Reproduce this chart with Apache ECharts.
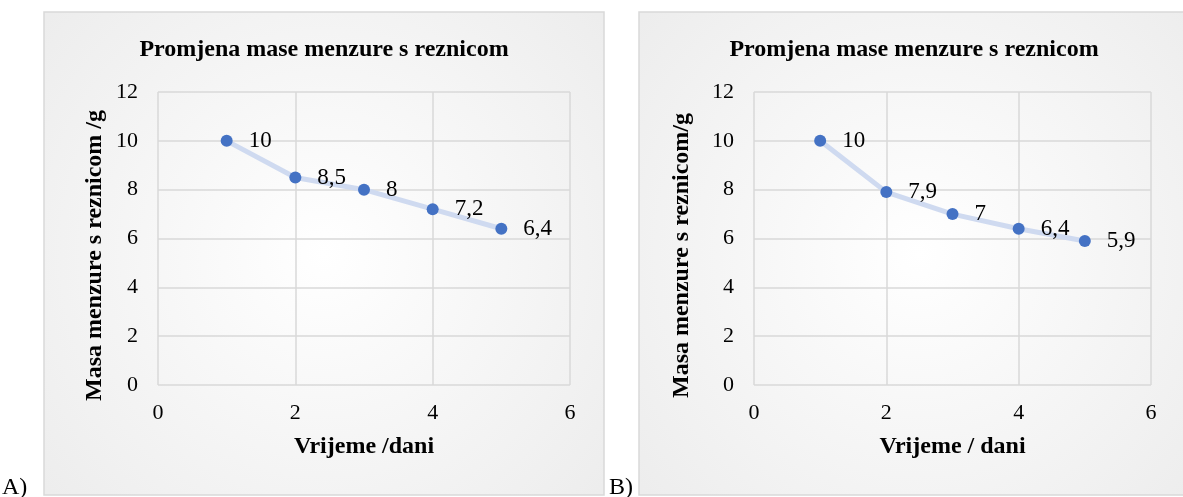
<!DOCTYPE html>
<html>
<head>
<meta charset="utf-8">
<script src="https://cdn.jsdelivr.net/npm/echarts@6/dist/echarts.min.js"></script>
<style>
  html, body { margin: 0; padding: 0; background: #fff; }
  #chart { width: 1183px; height: 497px; }
</style>
</head>
<body>
<div id="chart"></div>
<script>
const days = [1, 2, 3, 4, 5];
const massA = [10, 8.5, 8, 7.2, 6.4];
const massB = [10, 7.9, 7, 6.4, 5.9];
const xTicks = [0, 2, 4, 6];
const yTicks = [0, 2, 4, 6, 8, 10, 12];

const chartTitle = 'Promjena mase menzure s reznicom';
const yNameA = 'Masa menzure s reznicom /g';
const yNameB = 'Masa menzure s reznicom/g';
const xNameA = 'Vrijeme /dani';
const xNameB = 'Vrijeme / dani';

const font = '"Liberation Serif", "Times New Roman", serif';
const gridColor = '#d9d9d9';

const panelFill = {
  type: 'radial', x: 0.5, y: 0.5, r: 0.75,
  colorStops: [{ offset: 0, color: '#ffffff' }, { offset: 1, color: '#ededed' }]
};

function xAxis(gridIndex, name) {
  return {
    type: 'value', gridIndex, min: xTicks[0], max: xTicks[xTicks.length - 1], interval: 2,
    name, nameLocation: 'middle', nameGap: 50,
    nameTextStyle: { fontFamily: font, fontWeight: 'bold', fontSize: 24, color: '#000' },
    axisLine: { show: false }, axisTick: { show: false },
    axisLabel: { fontFamily: font, fontSize: 22, color: '#000', margin: 17 },
    splitLine: { show: true, lineStyle: { color: gridColor, width: 1.5 } }
  };
}

function yAxis(gridIndex, name, gap) {
  return {
    type: 'value', gridIndex, min: yTicks[0], max: yTicks[yTicks.length - 1], interval: 2,
    name, nameLocation: 'middle', nameGap: gap,
    nameTextStyle: { fontFamily: font, fontWeight: 'bold', fontSize: 24, color: '#000', padding: [0, 34, 0, 0] },
    axisLine: { show: false }, axisTick: { show: false },
    axisLabel: { fontFamily: font, fontSize: 22, color: '#000', margin: 20 },
    splitLine: { show: true, lineStyle: { color: gridColor, width: 1.5 } }
  };
}

function series(idx, values) {
  return {
    type: 'line', xAxisIndex: idx, yAxisIndex: idx,
    data: days.map((d, i) => [d, values[i]]),
    symbol: 'circle', symbolSize: 12,
    itemStyle: { color: '#4472c4' },
    lineStyle: { color: '#cfdaf0', width: 5 },
    label: {
      show: true, position: 'right', distance: 16,
      fontFamily: font, fontSize: 23, color: '#000',
      formatter: p => String(p.value[1]).replace('.', ',')
    },
    z: 5
  };
}

const chart = echarts.init(document.getElementById('chart'));
chart.setOption({
  animation: false,
  backgroundColor: '#fff',
  graphic: [
    { type: 'rect', shape: { x: 44, y: 12, width: 560, height: 483 },
      style: { fill: panelFill, stroke: '#d9d9d9', lineWidth: 1.5 }, z: -10 },
    { type: 'rect', shape: { x: 639, y: 12, width: 560, height: 483 },
      style: { fill: panelFill, stroke: '#d9d9d9', lineWidth: 1.5 }, z: -10 },
    { type: 'text', x: 2, y: 476, style: { text: 'A)', font: '24px ' + font, fill: '#000' } },
    { type: 'text', x: 609, y: 476, style: { text: 'B)', font: '24px ' + font, fill: '#000' } }
  ],
  title: [
    { text: chartTitle, left: 319, top: 33, textAlign: 'center',
      textStyle: { fontFamily: font, fontWeight: 'bold', fontSize: 24, color: '#000' } },
    { text: chartTitle, left: 909, top: 33, textAlign: 'center',
      textStyle: { fontFamily: font, fontWeight: 'bold', fontSize: 24, color: '#000' } }
  ],
  grid: [
    { left: 158, top: 92, width: 412, height: 293 },
    { left: 754, top: 92, width: 397, height: 293 }
  ],
  xAxis: [xAxis(0, xNameA), xAxis(1, xNameB)],
  yAxis: [yAxis(0, yNameA, 51), yAxis(1, yNameB, 60)],
  series: [series(0, massA), series(1, massB)]
});
</script>
</body>
</html>
